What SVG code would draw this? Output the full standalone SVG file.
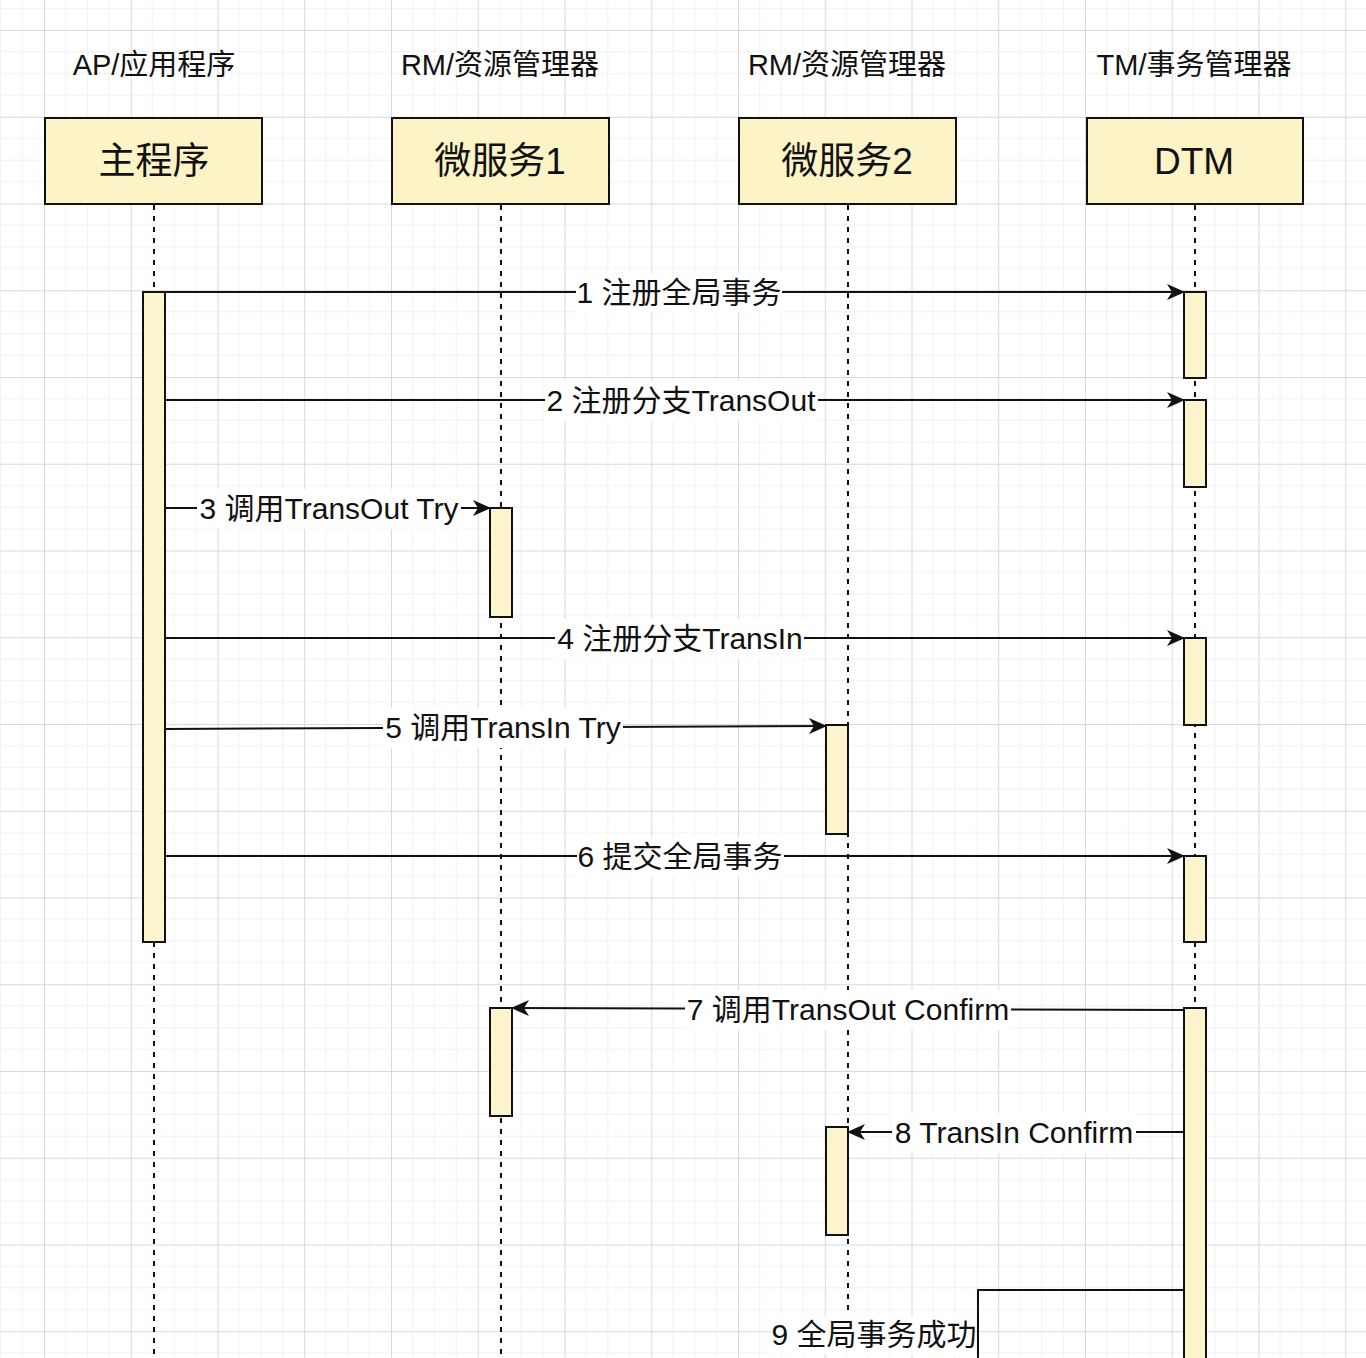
<svg xmlns="http://www.w3.org/2000/svg" width="1366" height="1358" viewBox="0 0 1366 1358">
<style>
.t{font-family:"Liberation Sans","Noto Sans CJK SC",sans-serif;fill:#111;text-anchor:middle}
.hdr{font-size:29px}
.box{font-size:37px}
.lbl{font-size:30px}
.node{fill:#fcf3c6;stroke:#111;stroke-width:2}
.act{fill:#fdf3cc;stroke:#111;stroke-width:2}
.life{stroke:#111;stroke-width:2;stroke-dasharray:5 6;fill:none}
.msg{stroke:#111;stroke-width:2;fill:none}
.bg{fill:#fff}
</style>
<defs>
<pattern id="grid" x="44" y="30" width="86.75" height="86.75" patternUnits="userSpaceOnUse">
<path d="M21.69 0V86.75M43.375 0V86.75M65.06 0V86.75M0 21.69H86.75M0 43.375H86.75M0 65.06H86.75" stroke="#f1f1f1" stroke-width="1"/>
<path d="M0 0V86.75M0 0H86.75" stroke="#d9d9d9" stroke-width="2"/>
</pattern>
<marker id="arr" viewBox="0 0 18 16" markerWidth="18" markerHeight="16" refX="17" refY="8" orient="auto" markerUnits="userSpaceOnUse">
<path d="M0,0 L18,8 L0,16 L5,8 Z" fill="#111"/>
</marker>
</defs>
<rect width="1366" height="1358" fill="#fff"/>
<rect width="1366" height="1358" fill="url(#grid)"/>

<g id="lifelines">
<line class="life" x1="154" y1="205" x2="154" y2="1358"/>
<line class="life" x1="501" y1="205" x2="501" y2="1358"/>
<line class="life" x1="848" y1="205" x2="848" y2="1358"/>
<line class="life" x1="1195" y1="205" x2="1195" y2="1358"/>
</g>

<g id="node-main">
<text class="t hdr" x="154" y="75">AP/应用程序</text>
<rect class="node" x="45" y="118" width="217" height="86"/>
<text class="t box" x="154" y="174">主程序</text>
</g>
<g id="node-ms1">
<text class="t hdr" x="500" y="75">RM/资源管理器</text>
<rect class="node" x="392" y="118" width="217" height="86"/>
<text class="t box" x="500" y="174">微服务1</text>
</g>
<g id="node-ms2">
<text class="t hdr" x="847" y="75">RM/资源管理器</text>
<rect class="node" x="739" y="118" width="217" height="86"/>
<text class="t box" x="847" y="174">微服务2</text>
</g>
<g id="node-dtm">
<text class="t hdr" x="1194" y="75">TM/事务管理器</text>
<rect class="node" x="1087" y="118" width="216" height="86"/>
<text class="t box" x="1194" y="174">DTM</text>
</g>

<g id="activations">
<rect class="act" x="143" y="292" width="22" height="650"/>
<rect class="act" x="1184" y="292" width="22" height="86"/>
<rect class="act" x="1184" y="400" width="22" height="87"/>
<rect class="act" x="1184" y="638" width="22" height="87"/>
<rect class="act" x="1184" y="856" width="22" height="86"/>
<rect class="act" x="1184" y="1008" width="22" height="370"/>
<rect class="act" x="490" y="508" width="22" height="109"/>
<rect class="act" x="490" y="1008" width="22" height="108"/>
<rect class="act" x="826" y="725" width="22" height="109"/>
<rect class="act" x="826" y="1127" width="22" height="108"/>
</g>

<g id="connectors">
<line class="msg" x1="165" y1="292" x2="1184" y2="292" marker-end="url(#arr)"/>
<rect class="bg" x="576" y="273" width="206" height="40"/>
<text class="t lbl" x="679" y="303">1 注册全局事务</text>

<line class="msg" x1="165" y1="400" x2="1184" y2="400" marker-end="url(#arr)"/>
<rect class="bg" x="545" y="381" width="273" height="40"/>
<text class="t lbl" x="681" y="411">2 注册分支TransOut</text>

<line class="msg" x1="165" y1="508" x2="490" y2="508" marker-end="url(#arr)"/>
<rect class="bg" x="197" y="489" width="264" height="40"/>
<text class="t lbl" x="329" y="519">3 调用TransOut Try</text>

<line class="msg" x1="165" y1="638" x2="1184" y2="638" marker-end="url(#arr)"/>
<rect class="bg" x="555" y="619" width="249" height="40"/>
<text class="t lbl" x="680" y="649">4 注册分支TransIn</text>

<line class="msg" x1="165" y1="729" x2="826" y2="726" marker-end="url(#arr)"/>
<rect class="bg" x="383" y="708" width="240" height="40"/>
<text class="t lbl" x="503" y="738">5 调用TransIn Try</text>

<line class="msg" x1="165" y1="856" x2="1184" y2="856" marker-end="url(#arr)"/>
<rect class="bg" x="577" y="837" width="207" height="40"/>
<text class="t lbl" x="680" y="867">6 提交全局事务</text>

<line class="msg" x1="1184" y1="1010" x2="512" y2="1008" marker-end="url(#arr)"/>
<rect class="bg" x="685" y="990" width="326" height="40"/>
<text class="t lbl" x="848" y="1020">7 调用TransOut Confirm</text>

<line class="msg" x1="1184" y1="1132" x2="848" y2="1132" marker-end="url(#arr)"/>
<rect class="bg" x="892" y="1113" width="244" height="40"/>
<text class="t lbl" x="1014" y="1143">8 TransIn Confirm</text>

<polyline class="msg" points="1184,1290 978,1290 978,1358"/>
<rect class="bg" x="771" y="1316" width="205" height="38"/>
<text class="t lbl" x="874" y="1345">9 全局事务成功</text>
</g>
</svg>
